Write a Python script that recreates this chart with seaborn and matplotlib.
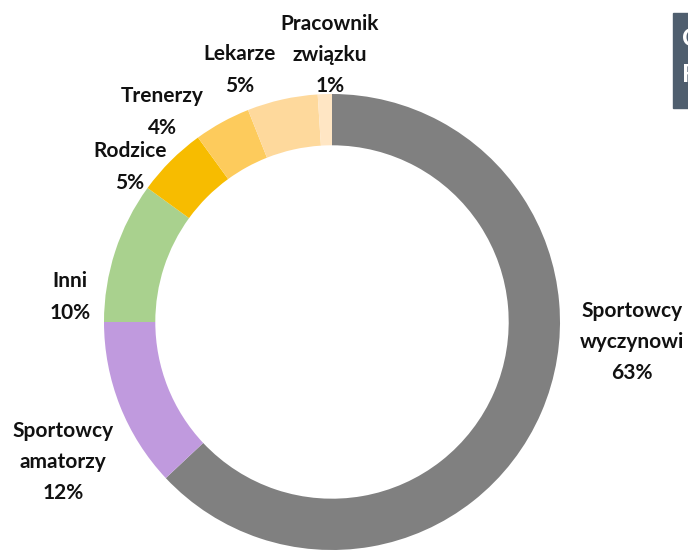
import matplotlib
matplotlib.use("Agg")
import matplotlib.pyplot as plt
import seaborn as sns
from matplotlib.patches import Rectangle

sns.set_theme(style="white")
plt.rcParams['font.family'] = ['Lato', 'DejaVu Sans']

# data
labels = ['Sportowcy\nwyczynowi', 'Sportowcy\namatorzy', 'Inni', 'Rodzice',
          'Trenerzy', 'Lekarze', 'Pracownik\nzwiązku']
values = [63, 12, 10, 5, 4, 5, 1]
colors = ['#808080', '#c09ade', '#a9d18e', '#f7bc00', '#fdcb5c', '#fed99c', '#ffe6c4']

# label block centres in pixels
label_px = [(632, 342), (63, 462), (70, 297), (130, 167), (162, 112), (240, 70), (330, 55)]

W, H = 688, 551
cx, cy, R = 332, 322, 228

fig = plt.figure(figsize=(W / 100, H / 100), dpi=100)
ax = fig.add_axes([(cx - R) / W, (H - cy - R) / H, 2 * R / W, 2 * R / H])
ax.pie(values, colors=colors, startangle=90, counterclock=False,
       wedgeprops=dict(width=0.225, edgecolor='none'))
ax.set_xlim(-1, 1)
ax.set_ylim(-1, 1)
ax.set_aspect('equal')
ax.axis('off')

for lab, v, (px, py) in zip(labels, values, label_px):
    txt = f"{lab}\n{v}%"
    fig.text(px / W, 1 - py / H, txt, ha='center', va='center',
             fontsize=15, fontweight='bold', color='#111111', linespacing=1.7)

# cut-off title box at the right edge
fig.patches.append(Rectangle((673 / W, 1 - 108 / H), 30 / W, 95 / H,
                             transform=fig.transFigure, color='#4f5e6e'))
fig.text(682 / W, 1 - 38 / H, 'C', ha='left', va='center', fontsize=18,
         fontweight='bold', color='white')
fig.text(682 / W, 1 - 75 / H, 'F', ha='left', va='center', fontsize=18,
         fontweight='bold', color='white')

fig.savefig('out.png', dpi=100)
